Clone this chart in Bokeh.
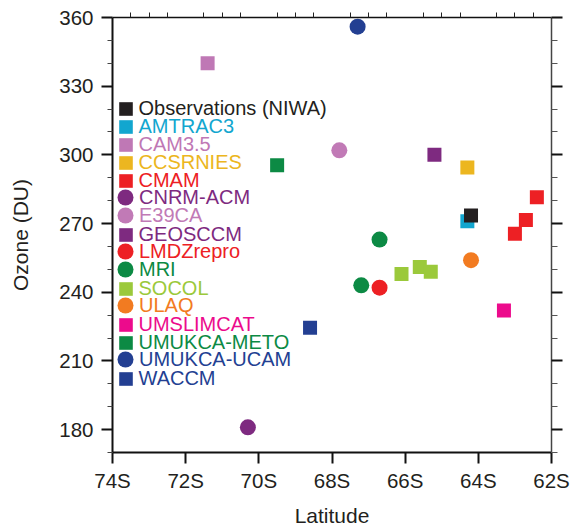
from bokeh.plotting import figure
from bokeh.models import (Range1d, LinearAxis, FixedTicker, Legend, LegendItem,
                          CustomJSTickFormatter, ColumnDataSource)
from bokeh.embed import file_html
from bokeh.resources import INLINE

# ---------------- data ----------------
names = ["Observations (NIWA)", "AMTRAC3", "CAM3.5", "CCSRNIES", "CMAM", "CNRM-ACM",
         "E39CA", "GEOSCCM", "LMDZrepro", "MRI", "SOCOL", "ULAQ", "UMSLIMCAT",
         "UMUKCA-METO", "UMUKCA-UCAM", "WACCM"]
markers = ["square", "square", "square", "square", "square", "circle",
           "circle", "square", "circle", "circle", "square", "circle", "square",
           "square", "circle", "square"]
colors = ["#231f20", "#12a6cf", "#bf78b5", "#ecb620", "#ed2024", "#7e2a80",
          "#c17ab6", "#7e2a80", "#ed2024", "#0c8a44", "#9bc93b", "#f27b21", "#ec0b8c",
          "#0c8a44", "#233f92", "#233f92"]
# latitude (negative = degrees south) and ozone (DU)
lat = [[-64.2], [-64.3], [-71.4], [-64.3], [-62.4, -62.7, -63.0], [-70.3],
       [-67.8], [-65.2], [-66.7], [-66.7, -67.2], [-66.1, -65.6, -65.3], [-64.2], [-63.3],
       [-69.5], [-67.3], [-68.6]]
ozone = [[273.5], [271.0], [340.0], [294.5], [281.5, 271.5, 265.5], [181.0],
         [302.0], [300.0], [242.0], [263.0, 243.0], [248.0, 251.0, 249.0], [254.0], [232.0],
         [295.5], [356.0], [224.5]]

x_ticks = [-74, -72, -70, -68, -66, -64, -62]
x_tick_labels = ["74S", "72S", "70S", "68S", "66S", "64S", "62S"]
y_ticks = [180, 210, 240, 270, 300, 330, 360]

# ---------------- figure ----------------
FONT = "Liberation Sans"
TXT = "#231f20"

p = figure(width=570, height=529, x_range=Range1d(-74, -62), y_range=Range1d(170, 360),
           output_backend="svg", toolbar_location=None,
           min_border_left=112, min_border_right=19, min_border_top=17, min_border_bottom=73,
           x_axis_label="Latitude", y_axis_label="Ozone (DU)")
p.grid.visible = False
p.outline_line_color = None
p.background_fill_color = "white"

y_minor = [v for v in range(170, 361, 10) if v not in y_ticks]

# bottom axis
xa = p.xaxis[0]
xa.ticker = FixedTicker(ticks=x_ticks)
xa.major_label_overrides = {t: l for t, l in zip(x_ticks, x_tick_labels)}
xa.major_tick_out = 11
xa.major_tick_in = 0
xa.minor_tick_out = 0
xa.minor_tick_in = 0
xa.major_tick_line_width = 2
xa.axis_line_width = 2

# left axis
ya = p.yaxis[0]
ya.ticker = FixedTicker(ticks=y_ticks, minor_ticks=y_minor)
ya.major_tick_out = 11
ya.major_tick_in = 0
ya.minor_tick_out = 5
ya.minor_tick_in = 0
ya.major_tick_line_width = 2
ya.axis_line_width = 2

for ax in (xa, ya):
    ax.major_label_text_font = FONT
    ax.major_label_text_font_size = "20.5px"
    ax.major_label_text_color = TXT
    ax.axis_label_text_font = FONT
    ax.axis_label_text_font_size = "21px"
    ax.axis_label_text_font_style = "normal"
    ax.axis_label_text_color = TXT
    ax.axis_line_color = "#111111"
    ax.major_tick_line_color = "#111111"
    ax.minor_tick_line_color = "#444444"
xa.major_label_standoff = 5
xa.axis_label_standoff = 9
ya.major_label_standoff = 8
ya.axis_label_standoff = 24

blank = CustomJSTickFormatter(code="return ''")

# top axis: half-degree ticks only between the labelled ones
top_ticks = [x / 2 for x in range(-147, -124) if x % 4 != 0]
ta = LinearAxis(ticker=FixedTicker(ticks=top_ticks), formatter=blank,
                major_tick_out=5, major_tick_in=0, minor_tick_out=0, minor_tick_in=0,
                major_label_standoff=0, axis_line_width=1.5, axis_line_color="#111111",
                major_tick_line_color="#222222")
p.add_layout(ta, "above")

# right axis
ra = LinearAxis(ticker=FixedTicker(ticks=y_ticks, minor_ticks=y_minor), formatter=blank,
                major_tick_out=11, major_tick_in=0, minor_tick_out=6, minor_tick_in=0,
                major_tick_line_width=2, major_label_standoff=0,
                axis_line_width=1.5, axis_line_color="#444444",
                major_tick_line_color="#111111", minor_tick_line_color="#555555")
p.add_layout(ra, "right")

# ---------------- points + legend ----------------
renderers = []
for nm, mk, col, xs, ys in zip(names, markers, colors, lat, ozone):
    src = ColumnDataSource(dict(x=xs, y=ys))
    if mk == "square":
        r = p.rect("x", "y", source=src, width=14, height=14,
                   width_units="screen", height_units="screen",
                   fill_color=col, line_color=None)
    else:
        r = p.ellipse("x", "y", source=src, width=16, height=16,
                      width_units="screen", height_units="screen",
                      fill_color=col, line_color=None)
    renderers.append(r)

# draw the observation square last (on top)
obs_r = renderers[0]
p.renderers.remove(obs_r)
p.renderers.append(obs_r)

frame_left = 112
frame_bottom = 456
first_row = 107.0
pitch = 18.0
LH = 24
for i, (nm, mk, col, r) in enumerate(zip(names, markers, colors, renderers)):
    c = first_row + i * pitch
    if mk == "square":
        gw, gh, so, adj = 17, 17, 5, 1.5
    else:
        gw, gh, so, adj = 20, 24, 4, 4
    top = c - gh / 2 + adj
    lx = 125 - frame_left - gw / 2
    ly = frame_bottom - top - LH
    leg = Legend(items=[LegendItem(label=nm, renderers=[r])],
                 location=(lx, ly), glyph_width=gw, glyph_height=gh,
                 label_standoff=so, label_height=LH,
                 padding=0, margin=0, spacing=0,
                 label_text_font=FONT, label_text_font_size="20px",
                 label_text_color=col,
                 background_fill_alpha=0, border_line_alpha=0)
    p.add_layout(leg)

open("out.html", "w").write(file_html(p, INLINE))
